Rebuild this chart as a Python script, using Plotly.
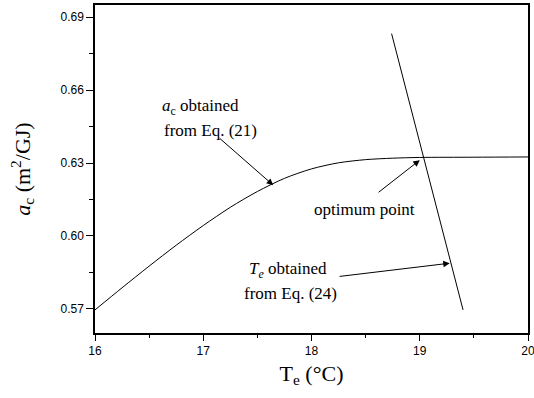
import plotly.graph_objects as go

# a_c curve from Eq. (21)
te_curve = [16.0, 16.25, 16.5, 16.75, 17.0, 17.25, 17.5, 17.75, 18.0, 18.25, 18.5, 18.75, 19.0, 19.5, 20.0]
ac_curve = [0.5696, 0.5787, 0.5876, 0.5962, 0.6043, 0.6118, 0.6183, 0.6237, 0.6276, 0.6301, 0.6314, 0.6320, 0.6323, 0.6324, 0.6325]

# T_e line from Eq. (24)
te_line = [18.74, 19.40]
ac_line = [0.6832, 0.5696]

x_ticks = [16, 17, 18, 19, 20]
y_ticks = [0.57, 0.60, 0.63, 0.66, 0.69]

serif = "Liberation Serif"
sans = "Liberation Sans"

fig = go.Figure()
fig.add_trace(go.Scatter(x=te_curve, y=ac_curve, mode="lines",
                         line=dict(color="black", width=1, shape="spline", smoothing=0.8), showlegend=False))
fig.add_trace(go.Scatter(x=te_line, y=ac_line, mode="lines", line=dict(color="black", width=1), showlegend=False))

ann_font = dict(family=serif, size=17, color="black")
annotations = [
    dict(x=16.60, y=0.6529, text="<i>a</i><sub>c</sub> obtained", xanchor="left"),
    dict(x=16.618, y=0.6435, text="from Eq. (21)", xanchor="left"),
    dict(x=18.49, y=0.6110, text="optimum point", xanchor="center"),
    dict(x=17.40, y=0.5860, text="<i>T<sub>e</sub></i> obtained", xanchor="left"),
    dict(x=17.354, y=0.5762, text="from Eq. (24)", xanchor="left"),
]
for a in annotations:
    fig.add_annotation(x=a["x"], y=a["y"], text=a["text"], xanchor=a["xanchor"], yanchor="middle",
                       showarrow=False, font=ann_font)

arrows = [
    ((17.138, 0.6407), (17.646, 0.6209)),
    ((18.606, 0.6175), (19.00, 0.6312)),
    ((18.246, 0.5833), (19.277, 0.5888)),
]
for (tx, ty), (hx, hy) in arrows:
    fig.add_annotation(x=hx, y=hy, ax=tx, ay=ty, axref="x", ayref="y", xref="x", yref="y",
                       text="", showarrow=True, arrowhead=2, arrowsize=1.3, arrowwidth=1, arrowcolor="black")

fig.update_layout(
    width=534, height=398,
    margin=dict(l=95, r=6, t=5, b=65, autoexpand=False),
    plot_bgcolor="white", paper_bgcolor="white",
    xaxis=dict(range=[16, 20], tickvals=x_ticks, ticktext=[str(v) for v in x_ticks], automargin=False,
               ticks="outside", ticklen=6, tickwidth=1, tickcolor="black", ticklabeloverflow="allow",
               minor=dict(dtick=0.5, tick0=16, ticklen=3, tickcolor="black", ticks="outside", showgrid=False),
               showline=True, linecolor="black", linewidth=1.5, mirror=True, showgrid=False, zeroline=False,
               tickfont=dict(family=sans, size=12, color="black"),
               title=dict(text="T<sub>e</sub> (°C)", font=dict(family=serif, size=22, color="black"), standoff=8)),
    yaxis=dict(range=[0.5601, 0.695], tickvals=y_ticks, ticktext=["%.2f" % v for v in y_ticks], automargin=False,
               ticks="outside", ticklen=7, tickwidth=1, tickcolor="black",
               minor=dict(dtick=0.015, tick0=0.57, ticklen=4, tickcolor="black", ticks="outside", showgrid=False),
               showline=True, linecolor="black", linewidth=1.5, mirror=True, showgrid=False, zeroline=False,
               tickfont=dict(family=sans, size=12, color="black"),
               title=dict(text="<i>a</i><sub>c</sub> (m<sup>2</sup>/GJ)", font=dict(family=serif, size=22, color="black"), standoff=24)),
)

fig.write_html("out.html", config={"displayModeBar": False},
               post_script="document.body.style.margin='0';document.body.style.overflow='hidden';")
